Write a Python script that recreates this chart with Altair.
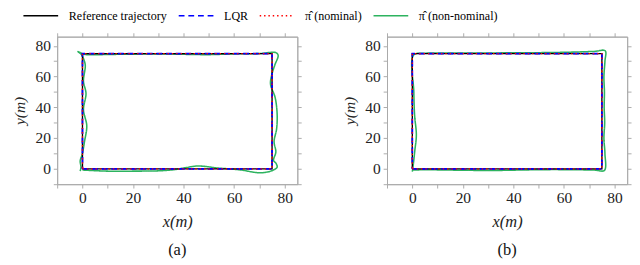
import altair as alt
import pandas as pd

# ---- data -------------------------------------------------------------
series_names = ["Reference trajectory", "LQR", "π̂ (nominal)", "π̂ (non-nominal)"]
series_colors = ["#000000", "#0000ff", "#ff0000", "#2db35f"]
series_dashes = [[1, 0], [6, 4], [1.5, 3], [1, 0]]

ref_x = [0, 75, 75, 0, 0]
ref_y = [0, 0, 75, 75, 0]

lqr_x = [0, 75, 75, 0, 0]
lqr_y = [0, 0, 75, 75, 0]

nom_x = [0, 75, 75, 0, 0]
nom_y = [0, 0, 75, 75, 0]

green_a_x = [0, 5, 10, 20, 30, 36, 41, 45, 49, 53, 58, 63, 67, 70, 73, 75.5, 77, 76.6, 75.6, 76.5,
             75.8, 76.8, 77.0, 76.2, 74.4, 74.9, 76.1, 77.4, 76.5, 70, 60, 50, 40, 30, 20, 10, 4, 0.5,
             -1.8, -0.5, 0.2, 1.1, 0.4, 1.4, 0.4, 1.7, 0.8, -0.1, -0.9, -0.6, -0.9]
green_a_y = [-0.8, -1.2, -1.5, -1.5, -1.3, -0.6, 0.8, 1.8, 1.5, 0.6, 0.0, -0.8, -2.0, -2.6, -2.1, -0.8,
             1.0, 3.5, 5.5, 11.0, 17.7, 26.0, 36.0, 46.5, 55.0, 61.3, 67.6, 73.8, 75.6, 75.0, 74.8, 74.3,
             74.5, 74.8, 74.6, 74.4, 74.2, 74.6, 76.3, 74.5, 72.5, 67.5, 57.0, 49.0, 38.5, 28.0, 17.7,
             9.4, 5.2, 1.0, -1.5]

green_b_x = [0.3, 5, 15, 25, 35, 45, 55, 65, 72, 76, 76.2, 75.8, 76.1, 75.9, 76.0, 75.8, 76.2, 76.3,
             72, 60, 45, 30, 15, 5, 0.5, 0.6, 0.9, 1.6, 1.0, 0.4, 0.0]
green_b_y = [-0.8, -0.6, -0.8, -1.0, -1.0, -0.7, -0.5, -0.6, -0.8, -1.0, 10, 20, 30, 40, 50, 60, 70,
             76.8, 76.4, 75.8, 75.5, 75.4, 75.3, 75.2, 74, 50, 35, 22, 12, 3, -1.8]

tick_values = [-10, 0, 10, 20, 30, 40, 50, 60, 70, 80]


def frame(xs, ys, name):
    return pd.DataFrame({"x": xs, "y": ys, "i": range(len(xs)), "series": name})


SERIF = "Liberation Serif"

color_scale = alt.Scale(domain=series_names, range=series_colors)
dash_scale = alt.Scale(domain=series_names, range=series_dashes)
legend = alt.Legend(
    title=None, orient="none", direction="horizontal", legendX=-36, legendY=-41,
    symbolType="stroke", symbolSize=1296, symbolStrokeWidth=1.6,
    labelFont=SERIF, labelFontSize=12.5, labelColor="#000", labelOffset=10,
    columnPadding=8, labelLimit=300,
)

label_expr = "datum.value % 20 == 0 ? datum.label : ''"


def axes_main():
    ax = alt.Axis(values=tick_values, labelExpr=label_expr, title="x(m)", grid=False,
                  titleFontStyle="italic", titleFont=SERIF, titleFontSize=17, titleFontWeight="normal",
                  labelFont=SERIF, labelFontSize=16, labelColor="#222", titleColor="#222",
                  domainColor="#aaaaaa", tickColor="#aaaaaa", tickSize=4, labelPadding=2,
                  titlePadding=9, labelFlush=False)
    ay = alt.Axis(values=tick_values, labelExpr=label_expr, title="y(m)", grid=False,
                  titleFontStyle="italic", titleFont=SERIF, titleFontSize=16, titleFontWeight="normal",
                  labelFont=SERIF, labelFontSize=16, labelColor="#222", titleColor="#222",
                  domainColor="#aaaaaa", tickColor="#aaaaaa", tickSize=4, labelPadding=3,
                  titlePadding=8, labelFlush=False)
    return ax, ay


def axes_opposite():
    ax = alt.Axis(orient="top", values=tick_values, labels=False, title=None, grid=False,
                  domainColor="#aaaaaa", tickColor="#aaaaaa", tickSize=4)
    ay = alt.Axis(orient="right", values=tick_values, labels=False, title=None, grid=False,
                  domainColor="#aaaaaa", tickColor="#aaaaaa", tickSize=4)
    return ax, ay


def panel(green_x, green_y, caption):
    xs = alt.Scale(domain=[-10, 85], nice=False, zero=False)
    ys = alt.Scale(domain=[-10, 86], nice=False, zero=False)
    layers = []
    specs = [
        (frame(green_x, green_y, series_names[3]), 1.6, "main", "catmull-rom"),
        (frame(ref_x, ref_y, series_names[0]), 1.4, "opp", "linear"),
        (frame(lqr_x, lqr_y, series_names[1]), 1.8, None, "linear"),
        (frame(nom_x, nom_y, series_names[2]), 1.4, None, "linear"),
    ]
    for df, sw, ax_kind, interp in specs:
        if ax_kind == "main":
            ax, ay = axes_main()
        elif ax_kind == "opp":
            ax, ay = axes_opposite()
        else:
            ax, ay = None, None
        layer = alt.Chart(df).mark_line(strokeWidth=sw, interpolate=interp).encode(
            x=alt.X("x:Q", scale=xs, axis=ax),
            y=alt.Y("y:Q", scale=ys, axis=ay),
            order="i:Q",
            color=alt.Color("series:N", scale=color_scale, legend=legend),
            strokeDash=alt.StrokeDash("series:N", scale=dash_scale, legend=legend),
        )
        layers.append(layer)
    return alt.layer(*layers).resolve_axis(x="independent", y="independent").properties(
        width=249, height=153,
        title=alt.TitleParams(caption, orient="bottom", font=SERIF, fontSize=17,
                              fontWeight="normal", color="#111", offset=13),
    )


chart = alt.hconcat(
    panel(green_a_x, green_a_y, "(a)"),
    panel(green_b_x, green_b_y, "(b)"),
    spacing=40,
).properties(
    padding={"left": 3, "right": 0, "top": -16, "bottom": 0}
).configure_view(
    stroke="#aaaaaa", strokeWidth=1
)

chart.save("out.html", embed_options={"renderer": "svg", "actions": False})
